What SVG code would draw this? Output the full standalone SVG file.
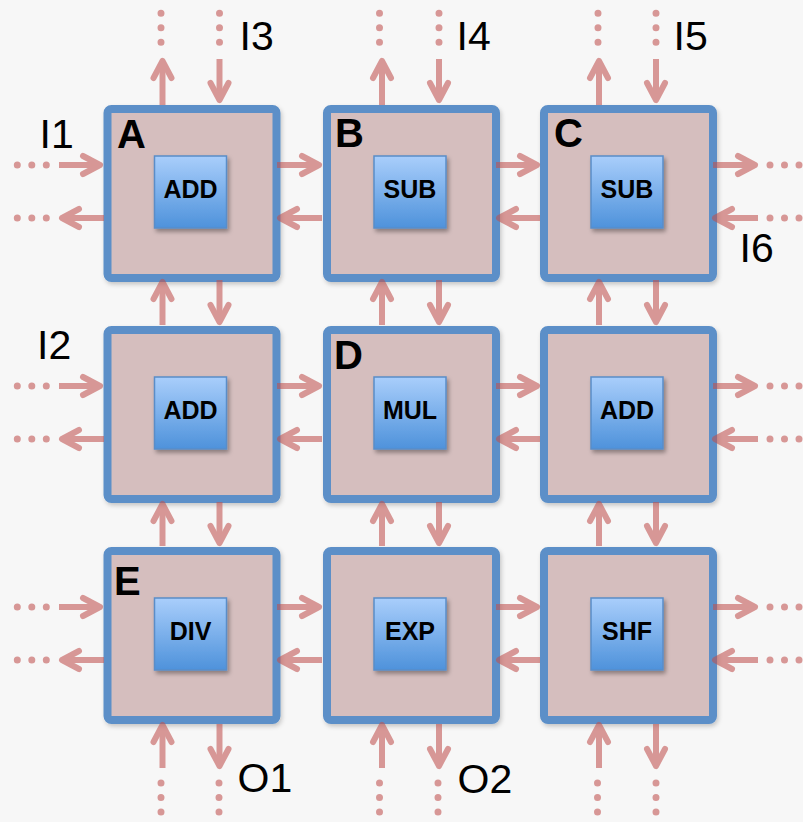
<svg xmlns="http://www.w3.org/2000/svg" width="803" height="822" viewBox="0 0 803 822">
<defs>
<linearGradient id="fu" x1="0" y1="0" x2="0" y2="1">
<stop offset="0" stop-color="#A9CEFB"/>
<stop offset="1" stop-color="#4E92DB"/>
</linearGradient>
<filter id="sh" x="-20%" y="-20%" width="150%" height="150%">
<feDropShadow dx="2" dy="3" stdDeviation="2" flood-color="#000" flood-opacity="0.35"/>
</filter>
<filter id="shn" x="-10%" y="-10%" width="125%" height="125%">
<feDropShadow dx="1.5" dy="2.5" stdDeviation="2" flood-color="#000" flood-opacity="0.2"/>
</filter>
<marker id="ah" markerUnits="userSpaceOnUse" markerWidth="40" markerHeight="40" viewBox="-25 -20 40 40" refX="0" refY="0" orient="auto" overflow="visible">
<path d="M-17,-9 L0,0 L-17,9" fill="none" stroke="#C0504D" stroke-width="6" stroke-linecap="round" stroke-linejoin="round"/>
</marker>
<style>
.node{fill:#D5BEBE;stroke:#5B8FC8;stroke-width:8;filter:url(#shn)}
.fu{fill:url(#fu);stroke:#5A8DC8;stroke-width:1.5;filter:url(#sh)}
.fl{font-family:"Liberation Sans",Arial,sans-serif;font-weight:bold;font-size:25px;fill:#000;text-anchor:middle}
.nl{font-family:"Liberation Sans",Arial,sans-serif;font-weight:bold;font-size:40px;fill:#000}
.io{font-family:"Liberation Sans",Arial,sans-serif;font-size:41px;fill:#000}
.ar{stroke:#C0504D;stroke-width:6;fill:none;marker-end:url(#ah)}
.dt{stroke:#C0504D;stroke-width:7;stroke-linecap:round;stroke-dasharray:0 14.5;fill:none}
</style>
</defs>
<rect width="803" height="822" fill="#F7F7F7"/>

<g id="node-A"><rect class="node" x="107.5" y="109" width="169" height="169" rx="4"/><rect class="fu" x="154.5" y="156" width="72" height="72"/><text class="fl" x="190.5" y="198">ADD</text><text class="nl" x="117" y="148">A</text></g>
<g id="node-B"><rect class="node" x="327" y="109" width="169" height="169" rx="4"/><rect class="fu" x="374" y="156" width="72" height="72"/><text class="fl" x="410" y="198">SUB</text><text class="nl" x="335" y="147">B</text></g>
<g id="node-C"><rect class="node" x="544" y="109" width="169" height="169" rx="4"/><rect class="fu" x="591" y="156" width="72" height="72"/><text class="fl" x="627" y="198">SUB</text><text class="nl" x="554" y="147">C</text></g>
<g id="node-r2c1"><rect class="node" x="107.5" y="330" width="169" height="169" rx="4"/><rect class="fu" x="154.5" y="377" width="72" height="72"/><text class="fl" x="190.5" y="419">ADD</text></g>
<g id="node-D"><rect class="node" x="327" y="330" width="169" height="169" rx="4"/><rect class="fu" x="374" y="377" width="72" height="72"/><text class="fl" x="410" y="419">MUL</text><text class="nl" x="334" y="369">D</text></g>
<g id="node-r2c3"><rect class="node" x="544" y="330" width="169" height="169" rx="4"/><rect class="fu" x="591" y="377" width="72" height="72"/><text class="fl" x="627" y="419">ADD</text></g>
<g id="node-E"><rect class="node" x="107.5" y="551" width="169" height="169" rx="4"/><rect class="fu" x="154.5" y="598" width="72" height="72"/><text class="fl" x="190.5" y="640">DIV</text><text class="nl" x="114" y="595">E</text></g>
<g id="node-r3c2"><rect class="node" x="327" y="551" width="169" height="169" rx="4"/><rect class="fu" x="374" y="598" width="72" height="72"/><text class="fl" x="410" y="640">EXP</text></g>
<g id="node-r3c3"><rect class="node" x="544" y="551" width="169" height="169" rx="4"/><rect class="fu" x="591" y="598" width="72" height="72"/><text class="fl" x="627" y="640">SHF</text></g>

<g id="connectors" opacity="0.57">
<line class="ar" x1="59" y1="165" x2="100" y2="165"/><line class="ar" x1="104" y1="218" x2="62" y2="218"/>
<line class="ar" x1="277" y1="165" x2="319" y2="165"/><line class="ar" x1="322" y1="218" x2="280" y2="218"/>
<line class="ar" x1="496" y1="165" x2="537" y2="165"/><line class="ar" x1="540" y1="218" x2="499" y2="218"/>
<line class="ar" x1="713" y1="165" x2="755" y2="165"/><line class="ar" x1="758" y1="218" x2="715" y2="218"/>

<line class="ar" x1="59" y1="386" x2="100" y2="386"/><line class="ar" x1="104" y1="439" x2="62" y2="439"/>
<line class="ar" x1="277" y1="386" x2="319" y2="386"/><line class="ar" x1="322" y1="439" x2="280" y2="439"/>
<line class="ar" x1="496" y1="386" x2="537" y2="386"/><line class="ar" x1="540" y1="439" x2="499" y2="439"/>
<line class="ar" x1="713" y1="386" x2="755" y2="386"/><line class="ar" x1="758" y1="439" x2="715" y2="439"/>

<line class="ar" x1="59" y1="607" x2="100" y2="607"/><line class="ar" x1="104" y1="660" x2="62" y2="660"/>
<line class="ar" x1="277" y1="607" x2="319" y2="607"/><line class="ar" x1="322" y1="660" x2="280" y2="660"/>
<line class="ar" x1="496" y1="607" x2="537" y2="607"/><line class="ar" x1="540" y1="660" x2="499" y2="660"/>
<line class="ar" x1="713" y1="607" x2="755" y2="607"/><line class="ar" x1="758" y1="660" x2="715" y2="660"/>

<line class="ar" x1="162.5" y1="105" x2="162.5" y2="61"/><line class="ar" x1="219.5" y1="59" x2="219.5" y2="100"/>
<line class="ar" x1="162.5" y1="325" x2="162.5" y2="282"/><line class="ar" x1="219.5" y1="280" x2="219.5" y2="322"/>
<line class="ar" x1="162.5" y1="546" x2="162.5" y2="504"/><line class="ar" x1="219.5" y1="502" x2="219.5" y2="543"/>
<line class="ar" x1="162.5" y1="768" x2="162.5" y2="725"/><line class="ar" x1="219.5" y1="724" x2="219.5" y2="766"/>

<line class="ar" x1="382" y1="105" x2="382" y2="61"/><line class="ar" x1="439" y1="59" x2="439" y2="100"/>
<line class="ar" x1="382" y1="325" x2="382" y2="282"/><line class="ar" x1="439" y1="280" x2="439" y2="322"/>
<line class="ar" x1="382" y1="546" x2="382" y2="504"/><line class="ar" x1="439" y1="502" x2="439" y2="543"/>
<line class="ar" x1="382" y1="768" x2="382" y2="725"/><line class="ar" x1="439" y1="724" x2="439" y2="766"/>

<line class="ar" x1="599" y1="105" x2="599" y2="61"/><line class="ar" x1="656" y1="59" x2="656" y2="100"/>
<line class="ar" x1="599" y1="325" x2="599" y2="282"/><line class="ar" x1="656" y1="280" x2="656" y2="322"/>
<line class="ar" x1="599" y1="546" x2="599" y2="504"/><line class="ar" x1="656" y1="502" x2="656" y2="543"/>
<line class="ar" x1="599" y1="768" x2="599" y2="725"/><line class="ar" x1="656" y1="724" x2="656" y2="766"/>

<line class="dt" x1="17.3" y1="165" x2="46.8" y2="165"/><line class="dt" x1="17.3" y1="218" x2="46.8" y2="218"/>
<line class="dt" x1="17.3" y1="386" x2="46.8" y2="386"/><line class="dt" x1="17.3" y1="439" x2="46.8" y2="439"/>
<line class="dt" x1="17.3" y1="607" x2="46.8" y2="607"/><line class="dt" x1="17.3" y1="660" x2="46.8" y2="660"/>
<line class="dt" x1="770" y1="165" x2="799.5" y2="165"/><line class="dt" x1="770" y1="218" x2="799.5" y2="218"/>
<line class="dt" x1="770" y1="386" x2="799.5" y2="386"/><line class="dt" x1="770" y1="439" x2="799.5" y2="439"/>
<line class="dt" x1="770" y1="607" x2="799.5" y2="607"/><line class="dt" x1="770" y1="660" x2="799.5" y2="660"/>
<line class="dt" x1="161" y1="13.3" x2="161" y2="42.8"/><line class="dt" x1="219.5" y1="13.3" x2="219.5" y2="42.8"/>
<line class="dt" x1="379.5" y1="13.3" x2="379.5" y2="42.8"/><line class="dt" x1="439" y1="13.3" x2="439" y2="42.8"/>
<line class="dt" x1="598" y1="13.3" x2="598" y2="42.8"/><line class="dt" x1="656" y1="13.3" x2="656" y2="42.8"/>
<line class="dt" x1="161" y1="783" x2="161" y2="812.5"/><line class="dt" x1="219" y1="783" x2="219" y2="812.5"/>
<line class="dt" x1="379.5" y1="783" x2="379.5" y2="812.5"/><line class="dt" x1="438" y1="783" x2="438" y2="812.5"/>
<line class="dt" x1="597.5" y1="783" x2="597.5" y2="812.5"/><line class="dt" x1="656" y1="783" x2="656" y2="812.5"/>
</g>

<g id="labels">
<text class="io" x="39.5" y="148">I1</text>
<text class="io" x="37" y="359">I2</text>
<text class="io" x="239.5" y="50">I3</text>
<text class="io" x="456.5" y="50">I4</text>
<text class="io" x="673.5" y="50">I5</text>
<text class="io" x="739.5" y="262">I6</text>
<text class="io" x="237.5" y="792">O1</text>
<text class="io" x="457.5" y="793">O2</text>
</g>
</svg>
